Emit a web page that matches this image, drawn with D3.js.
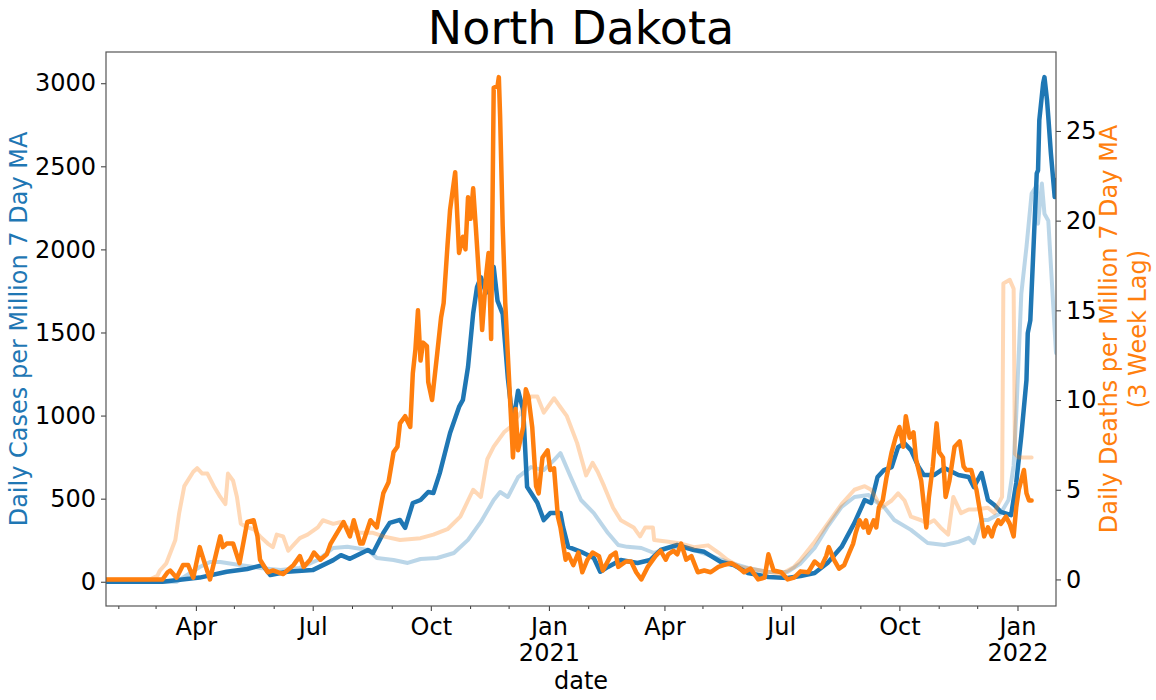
<!DOCTYPE html>
<html>
<head>
<meta charset="utf-8">
<script src="https://cdn.jsdelivr.net/npm/d3@7"></script>
<style>
  body { margin: 0; background: #fff; }
  svg text { font-family: "DejaVu Sans", sans-serif; }
</style>
</head>
<body>
<svg width="1156" height="700"></svg>
<script>
// first day of the series, every point is [days since start, value]
var startDate = new Date(2020, 0, 22);
var endDay = 740;

// North Dakota daily cases per million, 7 day MA (left axis)
var ndCases = [[0,0],[44,0],[73,25],[94,60],[110,77],[122,100],[128,40],[141,60],[161,70],[177,130],
  [183,160],[190,138],[204,191],[208,173],[216,293],[221,354],[229,372],[233,324],[239,474],[245,492],
  [251,540],[255,534],[260,654],[268,895],[275,1052],[278,1094],[282,1293],[286,1615],[289,1773],[292,1832],
  [296,1738],[302,1894],[305,1690],[309,1612],[313,1228],[317,951],[321,1150],[325,1033],[328,571],[331,535],
  [336,475],[341,371],[346,413],[354,413],[356,330],[360,210],[370,180],[380,143],[385,60],[391,89],
  [401,131],[414,113],[424,131],[432,191],[445,221],[458,191],[466,180],[479,119],[489,101],[500,53],
  [516,29],[531,23],[541,35],[552,53],[562,113],[573,210],[583,354],[591,492],[596,474],[601,630],
  [606,672],[612,690],[617,810],[622,834],[627,792],[633,690],[637,642],[645,642],[653,684],[664,642],
  [672,630],[676,570],[682,654],[687,492],[692,462],[697,420],[705,401],[709,594],[713,880],[717,1214],
  [718,1496],[720,1573],[725,2457],[726,2475],[727,2778],[730,3000],[731,3037],[733,2899],[734,2797],[736,2580],
  [739,2315],[740,2418]];

// US daily cases per million, 7 day MA (left axis, faded)
var usCases = [[0,0],[55,0],[73,89],[81,119],[89,119],[104,101],[120,83],[136,71],[151,83],[165,131],
  [177,203],[188,210],[204,191],[211,143],[224,131],[235,113],[245,137],[258,143],[271,173],[282,252],
  [292,360],[302,492],[307,540],[313,510],[321,630],[331,690],[341,672],[349,732],[354,774],[362,630],
  [370,492],[380,413],[391,293],[399,221],[406,210],[417,203],[427,173],[438,203],[448,210],[458,191],
  [469,161],[484,119],[500,83],[515,59],[531,59],[541,110],[552,203],[562,330],[573,450],[583,510],
  [594,522],[598,492],[606,450],[614,372],[627,312],[640,233],[653,221],[664,240],[672,264],[676,233],
  [682,372],[687,372],[697,413],[703,492],[707,700],[709,1000],[713,1735],[717,2015],[721,2336],[725,2384],
  [726,2155],[729,2396],[731,2215],[734,2173],[740,1377]];

// North Dakota daily deaths per million, 7 day MA, 3 week lag (right axis)
var ndDeaths = [[0,0],[44,0],[48,0.4],[50,0.5],[55,0.1],[60,0.8],[64,0.8],[68,0.1],[73,1.8],[76,1.1],
  [81,0],[89,2.4],[91,1.8],[94,2.0],[99,2.0],[104,0.9],[110,3.2],[115,3.3],[118,2.4],[120,1.1],
  [126,0.4],[130,0.5],[138,0.3],[146,0.8],[151,1.3],[154,0.7],[159,1.1],[162,1.5],[167,1.1],[172,1.4],
  [175,2.0],[180,2.6],[185,3.2],[190,2.4],[193,3.3],[198,2.0],[200,2.0],[206,3.3],[211,2.9],[216,4.8],
  [220,5.4],[224,7.1],[227,7.4],[229,8.7],[233,9.1],[237,8.5],[239,11.5],[241,12.8],[243,15.0],[245,12.2],
  [247,13.2],[250,13.0],[251,11.0],[254,10.0],[258,12.6],[261,14.6],[263,15.4],[266,18.6],[268,20.6],[272,22.7],
  [275,18.2],[278,19.1],[280,18.4],[282,21.3],[284,20.1],[286,21.8],[288,19.7],[289,18.6],[292,15.2],[293,13.9],
  [296,16.9],[298,18.2],[300,13.4],[302,27.4],[305,27.5],[306,28.0],[307,25.8],[309,19.7],[311,15.4],[314,11.1],
  [317,6.8],[319,9.5],[321,7.2],[325,8.5],[327,10.6],[329,10.2],[332,8.5],[335,5.2],[337,4.8],[340,6.8],
  [344,7.2],[346,6.1],[349,6.2],[352,3.5],[354,2.9],[356,2.0],[358,1.1],[360,1.4],[364,0.8],[368,1.5],
  [371,0.4],[375,1.1],[379,1.5],[384,1.3],[387,0.5],[393,1.3],[397,1.5],[399,0.7],[405,1.0],[409,1.0],
  [413,0.4],[417,0],[422,0.7],[428,1.3],[432,1.6],[436,1.1],[438,1.4],[442,1.6],[445,1.4],[448,2.0],
  [452,1.1],[456,1.3],[461,0.4],[466,0.5],[471,0.4],[477,0.7],[481,0.8],[487,0.9],[492,0.7],[497,0.4],
  [502,0.6],[508,0],[513,0.1],[516,1.4],[520,0.5],[526,0.4],[531,0],[536,0.1],[541,0.45],[547,0.4],
  [552,1.0],[557,0.7],[561,1.3],[563,1.8],[567,1.1],[571,0.6],[575,0.8],[579,1.5],[582,2.0],[584,2.6],
  [587,3.3],[590,2.9],[592,3.3],[594,2.6],[598,3.3],[600,2.9],[602,4.0],[605,4.4],[608,5.7],[612,7.1],
  [615,7.9],[618,8.5],[621,7.4],[623,9.1],[626,7.9],[629,8.2],[631,6.7],[635,5.5],[639,2.9],[641,4.6],
  [644,6.3],[647,8.7],[649,7.1],[652,6.8],[654,4.6],[657,5.5],[661,7.4],[665,7.7],[668,6.3],[670,6.1],
  [674,6.1],[678,5.0],[682,3.3],[684,2.4],[687,2.9],[690,2.4],[692,2.9],[695,3.3],[697,3.1],[701,3.5],
  [704,3.1],[707,2.4],[709,4.0],[711,5.0],[715,6.1],[717,4.8],[719,4.4],[721,4.4]];

// US daily deaths per million, 7 day MA, 3 week lag (right axis, faded)
var usDeaths = [[0,0],[34,0],[40,0.2],[42,0.5],[47,0.9],[54,2.2],[57,3.7],[61,5.2],[68,6.0],[71,6.2],
  [75,5.9],[79,5.9],[84,5.2],[89,4.6],[93,4.2],[95,5.9],[99,5.5],[102,4.6],[105,3.1],[110,2.9],
  [115,2.8],[120,2.4],[126,2.0],[130,1.8],[133,2.5],[138,2.4],[142,1.6],[147,2.0],[151,2.3],[157,2.5],
  [165,2.9],[169,3.3],[177,3.1],[183,3.2],[188,2.9],[198,2.6],[208,2.6],[216,2.4],[229,2.2],[245,2.3],
  [255,2.5],[266,2.8],[276,3.5],[282,4.4],[286,5.0],[292,4.6],[297,6.7],[302,7.4],[310,8.2],[315,8.5],
  [323,9.3],[331,10.2],[336,10.2],[341,9.3],[349,10.1],[354,9.6],[359,9.1],[367,7.6],[374,5.8],[379,6.5],
  [383,6.0],[388,5.2],[395,4.0],[401,3.3],[411,2.9],[416,2.4],[420,2.9],[426,2.9],[427,2.2],[438,2.1],
  [448,2.0],[458,1.8],[469,1.9],[477,1.5],[484,1.1],[494,0.7],[510,0.5],[526,0.3],[536,0.7],[541,1.1],
  [551,2.0],[562,3.1],[573,4.2],[583,5.0],[591,5.2],[596,5.0],[604,4.0],[612,4.4],[617,4.8],[622,4.4],
  [627,3.5],[635,3.3],[640,3.1],[645,3.3],[650,2.9],[656,2.5],[660,4.6],[666,3.7],[672,3.9],[677,3.9],
  [687,4.0],[692,3.7],[695,4.2],[698,4.6],[699,16.5],[704,16.7],[707,16.2],[708,7.0],[711,6.8],[721,6.8]];

var leftTicks = [0, 500, 1000, 1500, 2000, 2500, 3000];
var rightTicks = [0, 5, 10, 15, 20, 25];

var blue = "#1f77b4", orange = "#ff7f0e";

var svg = d3.select("svg");
var plotL = 106, plotR = 1056, plotT = 52, plotB = 606;

function day(d) { return d3.timeDay.offset(startDate, d); }

var x = d3.scaleTime().domain([startDate, day(endDay)]).range([plotL, plotR]);
var yL = d3.scaleLinear().domain([-146, 3188]).range([plotB, plotT]);
var yR = d3.scaleLinear().domain([-1.48, 29.4]).range([plotB, plotT]);

var lineL = d3.line().x(function(d) { return x(day(d[0])); }).y(function(d) { return yL(d[1]); });
var lineR = d3.line().x(function(d) { return x(day(d[0])); }).y(function(d) { return yR(d[1]); });

svg.append("defs").append("clipPath").attr("id", "clip")
  .append("rect").attr("x", plotL).attr("y", plotT).attr("width", plotR - plotL).attr("height", plotB - plotT);

var plot = svg.append("g").attr("clip-path", "url(#clip)");

function draw(data, line, color, opacity, width) {
  plot.append("path").datum(data)
    .attr("d", line)
    .attr("fill", "none")
    .attr("stroke", color)
    .attr("stroke-opacity", opacity)
    .attr("stroke-width", width)
    .attr("stroke-linejoin", "round")
    .attr("stroke-linecap", "round");
}

draw(usCases, lineL, blue, 0.3, 4);
draw(ndCases, lineL, blue, 1, 4.5);
draw(usDeaths, lineR, orange, 0.3, 4);
draw(ndDeaths, lineR, orange, 1, 4.5);

// axes
var fs = 24;
var axisL = svg.append("g").attr("transform", "translate(" + plotL + ",0)")
  .call(d3.axisLeft(yL).tickValues(leftTicks).tickSize(5).tickPadding(5).tickFormat(d3.format("d")));
var axisR = svg.append("g").attr("transform", "translate(" + plotR + ",0)")
  .call(d3.axisRight(yR).tickValues(rightTicks).tickSize(5).tickPadding(5).tickFormat(d3.format("d")));

var majors = x.ticks(d3.timeMonth.every(3));
var minors = x.ticks(d3.timeMonth.every(1)).filter(function(d) { return d.getMonth() % 3 !== 0; });

var axisB = svg.append("g").attr("transform", "translate(0," + plotB + ")")
  .call(d3.axisBottom(x).tickValues(majors).tickSize(5).tickPadding(7)
    .tickFormat(d3.timeFormat("%b")));
axisB.selectAll(".minor").data(minors).enter().append("line")
  .attr("class", "minor")
  .attr("x1", function(d) { return x(d); }).attr("x2", function(d) { return x(d); })
  .attr("y1", 0).attr("y2", 3).attr("stroke", "#000").attr("stroke-width", 0.8);

// year under January, as its own line of text
axisB.selectAll(".tick").filter(function(d) { return d.getMonth() === 0; })
  .append("text")
  .attr("y", 38).attr("dy", "0.71em")
  .attr("text-anchor", "middle")
  .text(function(d) { return d.getFullYear(); });

[axisL, axisR, axisB].forEach(function(a) {
  a.selectAll("text").attr("font-size", fs).attr("fill", "#000");
  a.selectAll("line").attr("stroke", "#000").attr("stroke-width", 0.8);
  a.select(".domain").remove();
});

// frame
svg.append("rect").attr("x", plotL).attr("y", plotT).attr("width", plotR - plotL).attr("height", plotB - plotT)
  .attr("fill", "none").attr("stroke", "#555").attr("stroke-width", 1.2);

// labels
svg.append("text").attr("x", (plotL + plotR) / 2).attr("y", 44)
  .attr("text-anchor", "middle").attr("font-size", 46).text("North Dakota");

svg.append("text").attr("x", (plotL + plotR) / 2).attr("y", 689)
  .attr("text-anchor", "middle").attr("font-size", fs).text("date");

svg.append("text")
  .attr("transform", "translate(27," + (plotT + plotB) / 2 + ") rotate(-90)")
  .attr("text-anchor", "middle").attr("font-size", fs).attr("fill", blue)
  .text("Daily Cases per Million 7 Day MA");

var rl = svg.append("text")
  .attr("transform", "translate(1117," + (plotT + plotB) / 2 + ") rotate(-90)")
  .attr("text-anchor", "middle").attr("font-size", fs).attr("fill", orange);
rl.append("tspan").attr("x", 0).attr("dy", "0").text("Daily Deaths per Million 7 Day MA");
rl.append("tspan").attr("x", 0).attr("dy", "1.2em").text("(3 Week Lag)");
</script>
</body>
</html>
